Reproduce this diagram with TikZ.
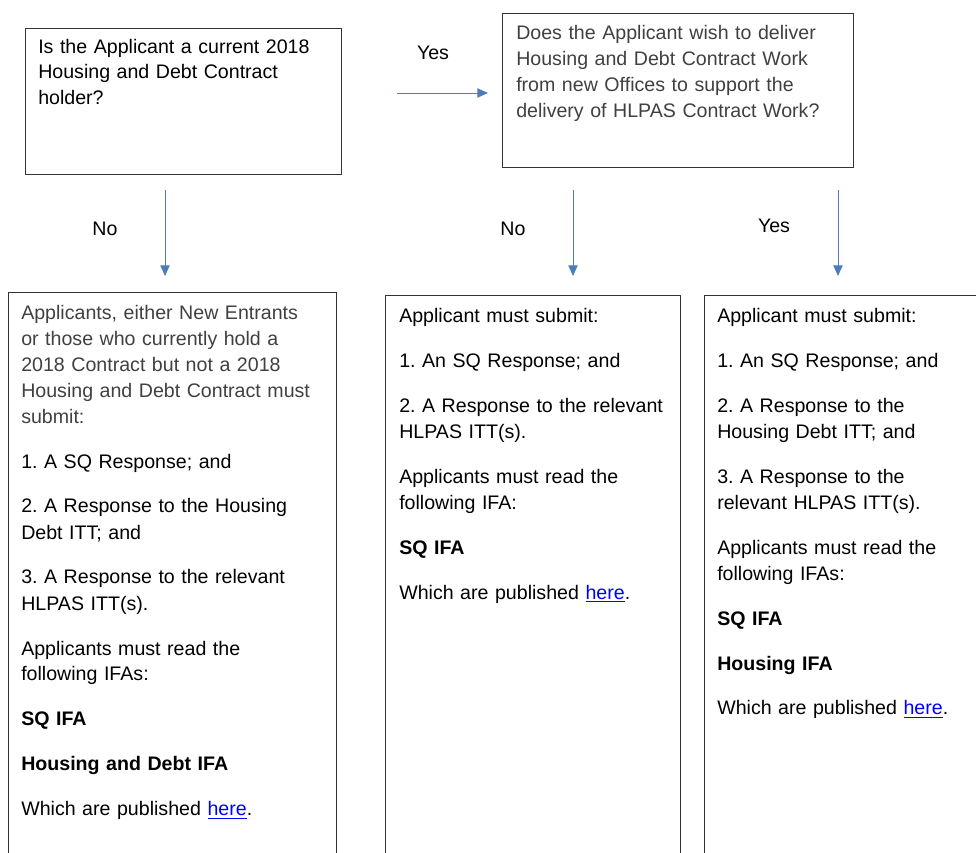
\documentclass[tikz,border=0pt]{standalone}
\usepackage{fontspec}
\setmainfont{Liberation Sans}
\usepackage{xcolor}
\usetikzlibrary{arrows.meta}

\definecolor{flowblue}{HTML}{4A7EBB}
\definecolor{txtgray}{HTML}{404040}
\definecolor{linkblue}{HTML}{0000FF}
\newcommand{\herelink}{\textcolor{linkblue}{\underline{here}}}
\frenchspacing

\begin{document}
\begin{tikzpicture}[x=0.75pt,y=-0.75pt,
    box/.style={draw=black!80, line width=0.75pt, anchor=north west, inner sep=0pt},
    boxtext/.style={anchor=base west, inner sep=0pt, align=left, text width=#1,
      font=\fontsize{14.7}{19.5}\selectfont},
    lbl/.style={anchor=base, inner sep=0pt, font=\fontsize{14.7}{19.5}\selectfont},
    flow/.style={draw=flowblue, line width=0.75pt, -{Triangle[length=8pt,width=7pt]}}]
    \useasboundingbox (0,0) rectangle (976,853);
    \clip (0,0) rectangle (976,853);

    % question boxes
    \node[box, minimum width=237pt, minimum height=109.5pt] (holder) at (25,28) {};
    \node[boxtext=230pt] (holdertxt) at (38,53) {Is the Applicant a current 2018\\
      Housing and Debt Contract\\holder?};
    \node[box, minimum width=263.25pt, minimum height=115.5pt] (offices) at (502,13) {};
    \node[boxtext=250pt, text=txtgray] (officestxt) at (516,40) {Does the Applicant wish to deliver\\
      Housing and Debt Contract Work\\from new Offices to support the\\
      delivery of HLPAS Contract Work?};

    % answer boxes
    \node[box, minimum width=246pt, minimum height=465pt] (entrant) at (8,291.5) {};
    \node[boxtext=235pt] (entranttxt) at (21,319) {\textcolor{txtgray}{Applicants, either New Entrants\\
      or those who currently hold a\\2018 Contract but not a 2018\\
      Housing and Debt Contract must\\submit:}\\[14.25pt]
      1. A SQ Response; and\\[14.25pt]
      2. A Response to the Housing\\Debt ITT; and\\[14.25pt]
      3. A Response to the relevant\\HLPAS ITT(s).\\[14.25pt]
      Applicants must read the\\following IFAs:\\[14.25pt]
      \textbf{SQ IFA}\\[14.25pt]
      \textbf{Housing and Debt IFA}\\[14.25pt]
      Which are published \herelink.};
    \node[box, minimum width=221.25pt, minimum height=465pt] (nooffice) at (385,295) {};
    \node[boxtext=210pt] (noofficetxt) at (399,322) {Applicant must submit:\\[14.25pt]
      1. An SQ Response; and\\[14.25pt]
      2. A Response to the relevant\\HLPAS ITT(s).\\[14.25pt]
      Applicants must read the\\following IFA:\\[14.25pt]
      \textbf{SQ IFA}\\[14.25pt]
      Which are published \herelink.};
    \node[box, minimum width=225pt, minimum height=465pt] (newoffice) at (704,295) {};
    \node[boxtext=200pt] (newofficetxt) at (717,322) {Applicant must submit:\\[14.25pt]
      1. An SQ Response; and\\[14.25pt]
      2. A Response to the\\Housing Debt ITT; and\\[14.25pt]
      3. A Response to the\\relevant HLPAS ITT(s).\\[14.25pt]
      Applicants must read the\\following IFAs:\\[14.25pt]
      \textbf{SQ IFA}\\[14.25pt]
      \textbf{Housing IFA}\\[14.25pt]
      Which are published \herelink.};

    % arrows
    \coordinate (yesfrom) at (397,93);
    \coordinate (yesto) at (488,93);
    \coordinate (nofrom) at (165,190);
    \coordinate (noto) at (165,276);
    \coordinate (no2from) at (573,190);
    \coordinate (no2to) at (573,276);
    \coordinate (yes2from) at (838,190);
    \coordinate (yes2to) at (838,276);
    \draw[flow] (yesfrom) -- (yesto);
    \draw[flow] (nofrom) -- (noto);
    \draw[flow] (no2from) -- (no2to);
    \draw[flow] (yes2from) -- (yes2to);

    \node[lbl] (yeslbl) at (433,59.5) {Yes};
    \node[lbl] (nolbl) at (105,235) {No};
    \node[lbl] (no2lbl) at (513,235) {No};
    \node[lbl] (yes2lbl) at (774,232) {Yes};
\end{tikzpicture}
\end{document}
